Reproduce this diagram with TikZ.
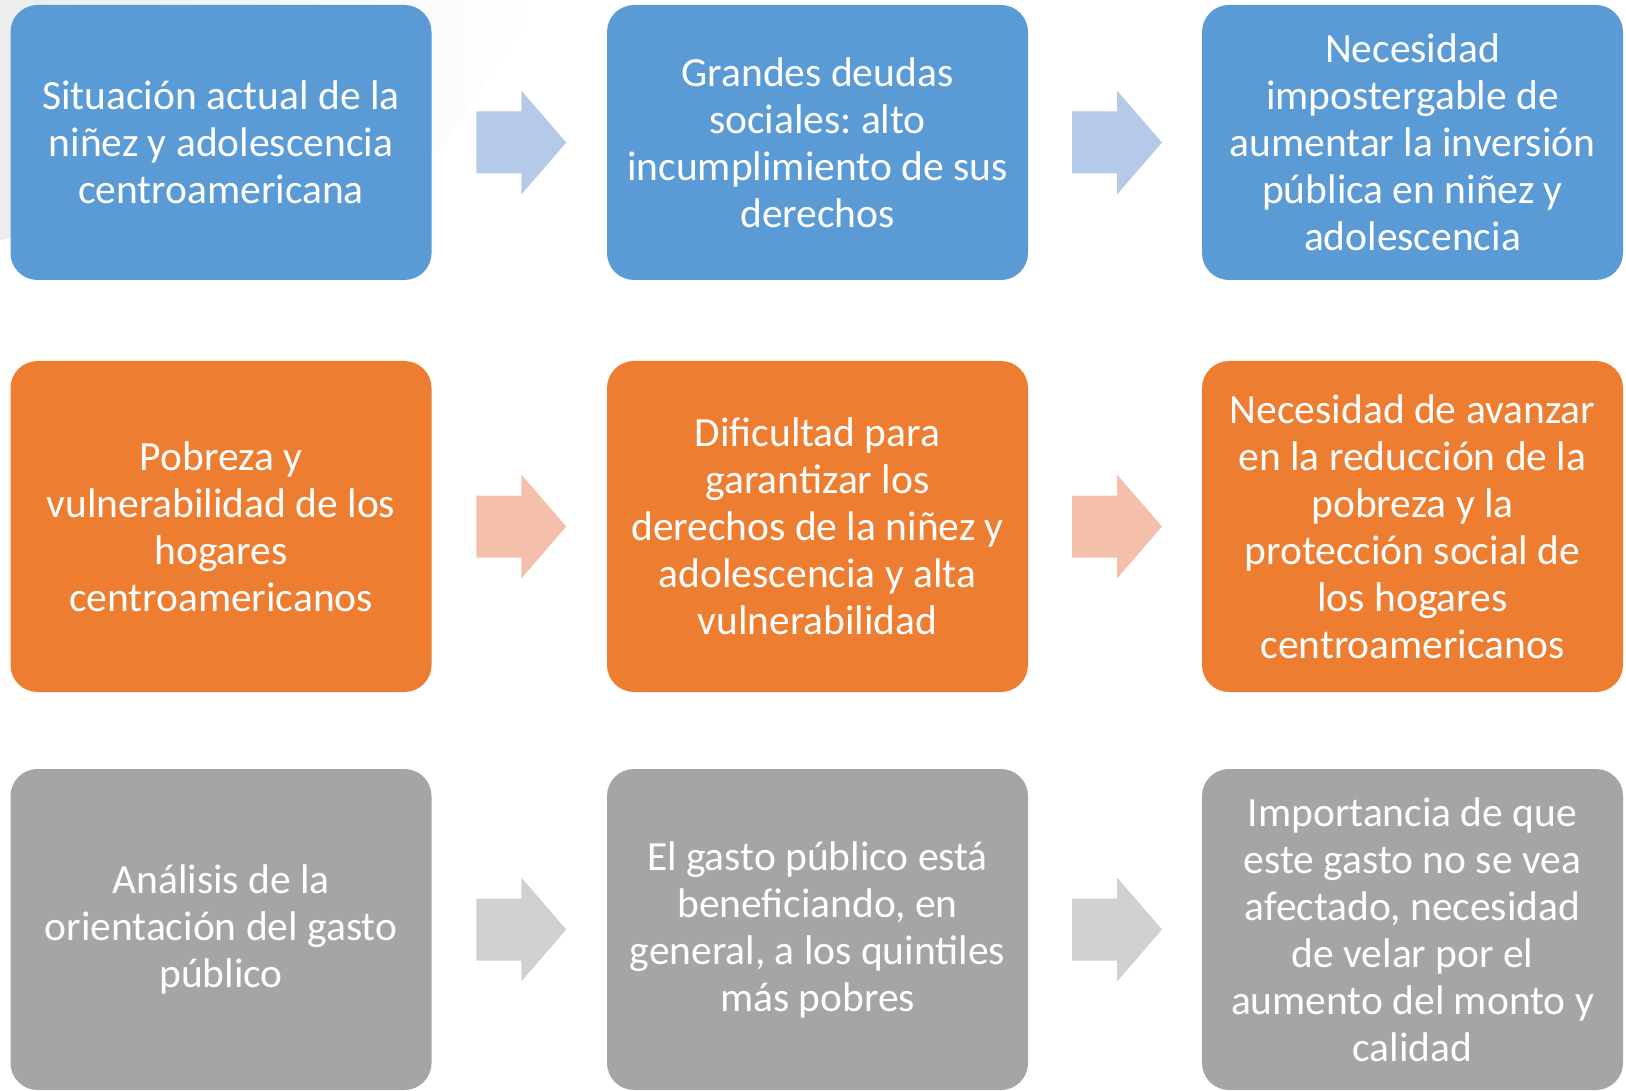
\documentclass[tikz,border=0pt]{standalone}
\usepackage{fontspec}
\setmainfont{Carlito}
\usetikzlibrary{calc}
\definecolor{azul}{HTML}{5B9BD5}
\definecolor{naranja}{HTML}{ED7D31}
\definecolor{gris}{HTML}{A5A5A5}
\definecolor{flechaazul}{HTML}{B5C9E8}
\definecolor{flechanaranja}{HTML}{F4C0AC}
\definecolor{flechagris}{HTML}{D0D0D0}
\frenchspacing
\tikzset{
  caja/.style={rounded corners=27pt, minimum width=421pt, inner sep=0pt,
    text=white, align=center, font=\fontsize{41.5}{47}\selectfont},
  flecha/.pic={\fill (-45,-31) -- (0,-31) -- (0,-52) -- (45,0) -- (0,52) -- (0,31) -- (-45,31) -- cycle;}
}
\begin{document}
\begin{tikzpicture}[x=1pt,y=-1pt]
\useasboundingbox (0,0) rectangle (1626,1091);
% fondo
\shade[left color=gray!14, right color=white] (0,0) -- (540,0) -- (440,150) -- (0,240) -- cycle;
% fila 1
\node[caja, fill=azul, minimum height=275pt] (b1) at (221,142.5) {Situación actual de la\\niñez y adolescencia\\centroamericana};
\node[caja, fill=azul, minimum height=275pt] (b2) at (817.5,142.5) {Grandes deudas\\sociales: alto\\incumplimiento de sus\\derechos};
\node[caja, fill=azul, minimum height=275pt] (b3) at (1412.5,142.5) {Necesidad\\impostergable de\\aumentar la inversión\\pública en niñez y\\adolescencia};
% fila 2
\node[caja, fill=naranja, minimum height=331pt] (o1) at (221,526.5) {Pobreza y\\vulnerabilidad de los\\hogares\\centroamericanos};
\node[caja, fill=naranja, minimum height=331pt] (o2) at (817.5,526.5) {Dificultad para\\garantizar los\\derechos de la niñez y\\adolescencia y alta\\vulnerabilidad};
\node[caja, fill=naranja, minimum height=331pt] (o3) at (1412.5,526.5) {Necesidad de avanzar\\en la reducción de la\\pobreza y la\\protección social de\\los hogares\\centroamericanos};
% fila 3
\node[caja, fill=gris, minimum height=321pt] (g1) at (221,929.5) {Análisis de la\\orientación del gasto\\público};
\node[caja, fill=gris, minimum height=321pt] (g2) at (817.5,929.5) {El gasto público está\\beneficiando, en\\general, a los quintiles\\más pobres};
\node[caja, fill=gris, minimum height=321pt] (g3) at (1412.5,929.5) {Importancia de que\\este gasto no se vea\\afectado, necesidad\\de velar por el\\aumento del monto y\\calidad};
% flechas
\pic[fill=flechaazul] at ($(b1.east)!0.5!(b2.west)+(2,0)$) {flecha};
\pic[fill=flechaazul] at ($(b2.east)!0.5!(b3.west)+(2,0)$) {flecha};
\pic[fill=flechanaranja] at ($(o1.east)!0.5!(o2.west)+(2,0)$) {flecha};
\pic[fill=flechanaranja] at ($(o2.east)!0.5!(o3.west)+(2,0)$) {flecha};
\pic[fill=flechagris] at ($(g1.east)!0.5!(g2.west)+(2,0)$) {flecha};
\pic[fill=flechagris] at ($(g2.east)!0.5!(g3.west)+(2,0)$) {flecha};
\end{tikzpicture}
\end{document}
